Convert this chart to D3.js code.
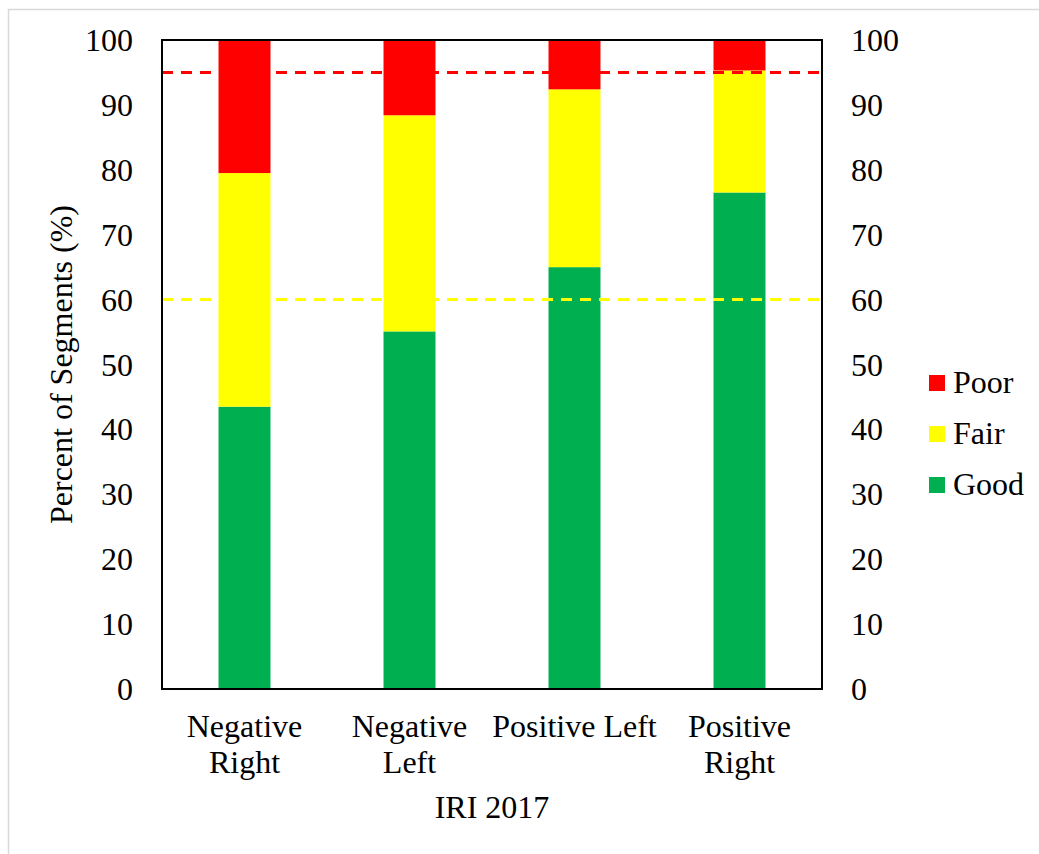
<!DOCTYPE html>
<html>
<head>
<meta charset="utf-8">
<script src="https://cdn.jsdelivr.net/npm/d3@7"></script>
<style>
  html, body { margin: 0; padding: 0; background: #fff; }
  svg { display: block; }
  text { font-family: "Liberation Serif", "Times New Roman", serif; fill: #000; }
</style>
</head>
<body>
<svg id="chart" width="1039" height="854"></svg>
<script>
// ---- Data ----
const categories = ["Negative Right", "Negative Left", "Positive Left", "Positive Right"];
const categoryLines = [["Negative", "Right"], ["Negative", "Left"], ["Positive Left"], ["Positive", "Right"]];
const good = [43.5, 55.1, 65.0, 76.5];
const fair = [36.0, 33.3, 27.4, 18.8];
const poor = [20.5, 11.6, 7.6, 4.7];
const seriesNames = ["Good", "Fair", "Poor"];
const seriesColors = ["#00B050", "#FFFF00", "#FF0000"];
const yTicks = [0, 10, 20, 30, 40, 50, 60, 70, 80, 90, 100];
const poorThreshold = 95;
const fairThreshold = 60;
const xTitle = "IRI 2017";
const yTitle = "Percent of Segments (%)";

(function () {
// ---- Layout ----
const svg = d3.select("#chart");
const pLeft = 162, pRight = 822, pTop = 40, pBottom = 689;
const fontSize = 32;

// outer frame
svg.append("rect")
  .attr("x", 8.5).attr("y", 9.5)
  .attr("width", 1040).attr("height", 850)
  .attr("fill", "#fff").attr("stroke", "#d9d9d9").attr("stroke-width", 1.5);

const x = d3.scaleBand().domain(categories).range([pLeft, pRight])
  .paddingInner(0.685).paddingOuter(0.3425);
const y = d3.scaleLinear().domain([0, 100]).range([pBottom, pTop]);

const table = categories.map((c, i) => ({ cat: c, Good: good[i], Fair: fair[i], Poor: poor[i] }));
const stacked = d3.stack().keys(seriesNames)(table);

svg.append("g").selectAll("g").data(stacked).join("g")
  .attr("fill", (d, i) => seriesColors[i])
  .selectAll("rect").data(d => d).join("rect")
  .attr("x", d => x(d.data.cat))
  .attr("width", x.bandwidth())
  .attr("y", d => y(Math.min(100, d[1])))
  .attr("height", d => y(d[0]) - y(Math.min(100, d[1])));

// threshold lines
[[poorThreshold, "#FF0000"], [fairThreshold, "#FFFF00"]].forEach(([v, col]) => {
  svg.append("line")
    .attr("x1", pLeft).attr("x2", pRight)
    .attr("y1", y(v)).attr("y2", y(v))
    .attr("stroke", col).attr("stroke-width", 3)
    .attr("stroke-dasharray", "11,8");
});

// plot box
svg.append("rect")
  .attr("x", pLeft).attr("y", pTop)
  .attr("width", pRight - pLeft).attr("height", pBottom - pTop)
  .attr("fill", "none").attr("stroke", "#000").attr("stroke-width", 2);

// left axis
const yAxisL = d3.axisLeft(y).tickValues(yTicks).tickSize(0).tickPadding(29);
const gL = svg.append("g").attr("transform", `translate(${pLeft},0)`).call(yAxisL);
gL.select(".domain").remove();
gL.selectAll("text").style("font-size", fontSize + "px")
  .style("font-family", '"Liberation Serif", "Times New Roman", serif')
  .attr("dy", "0.33em");

// right axis
const yAxisR = d3.axisRight(y).tickValues(yTicks).tickSize(0).tickPadding(29);
const gR = svg.append("g").attr("transform", `translate(${pRight},0)`).call(yAxisR);
gR.select(".domain").remove();
gR.selectAll("text").style("font-size", fontSize + "px")
  .style("font-family", '"Liberation Serif", "Times New Roman", serif')
  .attr("dy", "0.33em");

// x category labels
const xl = svg.append("g");
categories.forEach((c, i) => {
  const cx = x(c) + x.bandwidth() / 2;
  const t = xl.append("text")
    .attr("x", cx)
    .attr("y", 737)
    .attr("text-anchor", "middle")
    .style("font-size", fontSize + "px");
  categoryLines[i].forEach((ln, j) => {
    t.append("tspan").attr("x", cx)
      .attr("dy", j === 0 ? 0 : 36).text(ln);
  });
});

// x title
svg.append("text")
  .attr("x", (pLeft + pRight) / 2).attr("y", 818)
  .attr("text-anchor", "middle")
  .style("font-size", fontSize + "px")
  .text(xTitle);

// y title
svg.append("text")
  .attr("transform", `translate(72, ${(pTop + pBottom) / 2}) rotate(-90)`)
  .attr("text-anchor", "middle")
  .style("font-size", fontSize + "px")
  .text(yTitle);

// legend (Poor, Fair, Good top to bottom)
const legendOrder = [2, 1, 0];
const lg = svg.append("g");
legendOrder.forEach((si, k) => {
  const yy = 375 + k * 51;
  lg.append("rect").attr("x", 929).attr("y", yy)
    .attr("width", 16).attr("height", 16).attr("fill", seriesColors[si]);
  lg.append("text").attr("x", 953).attr("y", yy + 18)
    .style("font-size", fontSize + "px").text(seriesNames[si]);
});
})();
</script>
</body>
</html>
